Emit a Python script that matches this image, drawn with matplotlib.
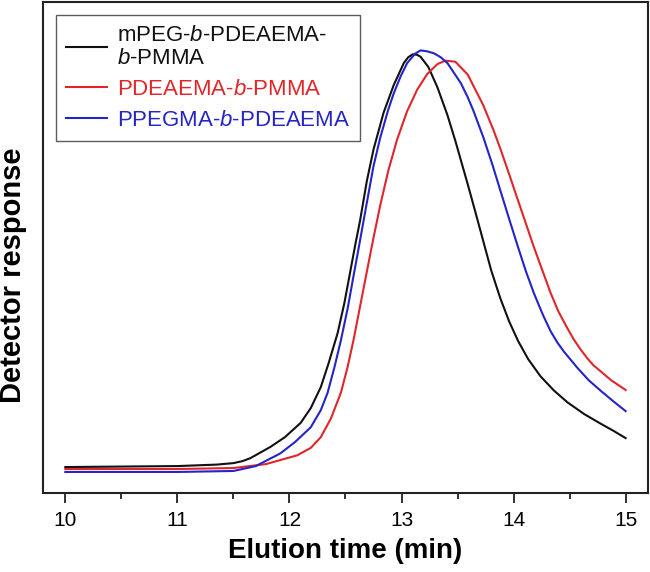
import matplotlib

matplotlib.use("Agg")
import matplotlib.pyplot as plt
from matplotlib.ticker import MultipleLocator

plt.rcParams["font.family"] = ["Liberation Sans", "DejaVu Sans"]
plt.rcParams["mathtext.fontset"] = "custom"
plt.rcParams["mathtext.it"] = "Liberation Sans:italic"
plt.rcParams["mathtext.rm"] = "Liberation Sans"

# values (elution time in min, detector response in a.u.)
t_black = [10.0, 11.0, 11.35, 11.5, 11.58, 11.65, 11.83, 11.96, 12.10, 12.19, 12.28,
           12.35, 12.43, 12.49, 12.54, 12.59, 12.63, 12.69, 12.75, 12.84, 12.93, 13.02,
           13.06, 13.10, 13.14, 13.17, 13.24, 13.32, 13.41, 13.48, 13.59, 13.66, 13.73,
           13.80, 13.88, 13.96, 14.04, 14.13, 14.24, 14.36, 14.48, 14.63, 14.78, 14.89,
           15.0]
y_black = [5.3, 5.5, 5.8, 6.1, 6.5, 7.1, 9.4, 11.4, 14.3, 17.3, 21.6,
           26.5, 32.6, 38.7, 44.8, 50.9, 55.5, 63.5, 70.0, 77.5, 83.1, 87.6,
           88.8, 89.4, 89.3, 88.9, 86.8, 82.7, 77.0, 71.8, 63.0, 57.2, 51.3,
           45.4, 39.8, 35.0, 31.0, 27.3, 23.8, 20.9, 18.5, 16.1, 14.1, 12.7,
           11.2]

t_red = [10.0, 11.0, 11.5, 11.79, 12.07, 12.19, 12.28, 12.37, 12.46, 12.52, 12.57,
         12.63, 12.70, 12.75, 12.81, 12.88, 12.96, 13.05, 13.14, 13.23, 13.32, 13.39,
         13.48, 13.59, 13.73, 13.82, 13.88, 13.96, 14.04, 14.18, 14.33, 14.40, 14.48,
         14.54, 14.60, 14.66, 14.71, 14.87, 15.0]
y_red = [4.9, 4.9, 5.1, 5.9, 7.7, 9.2, 11.4, 15.2, 20.5, 25.8, 31.0,
         38.0, 46.2, 52.0, 58.6, 65.5, 72.0, 77.8, 82.2, 85.4, 87.4, 88.1,
         87.9, 85.3, 79.0, 74.0, 70.3, 65.0, 59.6, 50.2, 40.8, 37.0, 33.6,
         31.2, 29.2, 27.4, 26.1, 23.0, 21.0]

t_blue = [10.0, 11.0, 11.5, 11.70, 11.92, 12.05, 12.19, 12.28, 12.34, 12.40, 12.46,
          12.52, 12.57, 12.62, 12.66, 12.71, 12.75, 12.81, 12.88, 12.93, 12.99, 13.05,
          13.12, 13.17, 13.23, 13.29, 13.35, 13.41, 13.46, 13.53, 13.59, 13.64, 13.73,
          13.81, 13.88, 13.96, 14.04, 14.11, 14.18, 14.26, 14.33, 14.39, 14.45, 14.57,
          14.67, 14.78, 14.89, 15.0]
y_blue = [4.3, 4.3, 4.5, 5.5, 8.1, 10.4, 13.4, 16.9, 20.4, 25.5, 31.2,
          37.7, 44.0, 50.2, 55.3, 61.6, 66.6, 72.4, 78.0, 81.4, 84.8, 87.6,
          89.5, 90.2, 90.0, 89.6, 88.8, 87.6, 85.9, 83.5, 80.7, 78.0, 72.5,
          67.0, 61.8, 55.9, 50.1, 45.2, 40.8, 36.4, 33.0, 30.7, 28.8, 25.5,
          23.0, 20.8, 18.7, 16.7]

labels = ["mPEG-$b$-PDEAEMA-\n$b$-PMMA", "PDEAEMA-$b$-PMMA", "PPEGMA-$b$-PDEAEMA"]
colors = ["#111111", "#e0262b", "#2424c8"]

fig = plt.figure(figsize=(6.5, 5.72), dpi=100)
ax = fig.add_axes([0.066, 0.138, 0.931, 0.858])

for t, y, lab, c in zip([t_black, t_red, t_blue], [y_black, y_red, y_blue], labels, colors):
    ax.plot(t, y, color=c, lw=1.5, label=lab, solid_joinstyle="round")

ax.set_xlim(9.8, 15.2)
ax.set_ylim(0, 100)
ax.xaxis.set_major_locator(MultipleLocator(1))
ax.xaxis.set_minor_locator(MultipleLocator(0.5))
ax.set_yticks([])
ax.tick_params(axis="x", which="major", direction="out", length=7, width=1.3,
               labelsize=15, pad=6, colors="#222222", labelcolor="black")
ax.tick_params(axis="x", which="minor", direction="out", length=4, width=1.3,
               colors="#222222")
for s in ax.spines.values():
    s.set_linewidth(1.5)
    s.set_color("#222222")

ax.set_xlabel("Elution time (min)", fontsize=20, fontweight="bold", labelpad=6)
ax.set_ylabel("Detector response", fontsize=21, fontweight="bold")
ax.yaxis.set_label_coords(-0.027, 0.444)

leg = ax.legend(loc="upper left", bbox_to_anchor=(0.022, 0.975), fontsize=16,
                frameon=True, fancybox=False, handlelength=1.85, handletextpad=0.45,
                borderpad=0.45, labelspacing=0.45, borderaxespad=0)
leg.get_frame().set_edgecolor("#333333")
leg.get_frame().set_linewidth(1.0)
for txt, c in zip(leg.get_texts(), colors):
    txt.set_color(c)
    txt.set_linespacing(1.15)

fig.savefig("out.png", dpi=100)
